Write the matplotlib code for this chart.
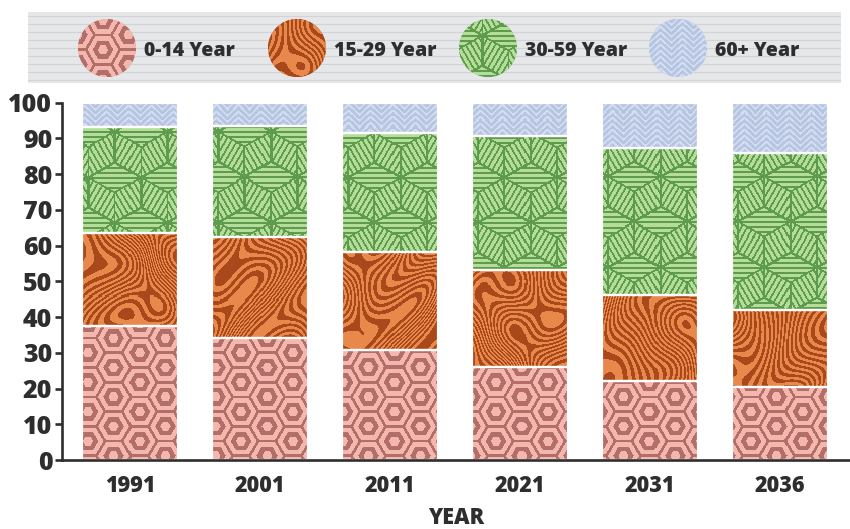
import numpy as np
import matplotlib
matplotlib.use("Agg")
import matplotlib.pyplot as plt
from matplotlib.patches import Circle
from matplotlib.colors import to_rgb

# ---------------- data ----------------
years = ["1991", "2001", "2011", "2021", "2031", "2036"]
age_groups = ["0-14 Year", "15-29 Year", "30-59 Year", "60+ Year"]
share_0_14 = [37.4, 34.1, 30.9, 26.0, 22.0, 20.4]
share_15_29 = [26.2, 28.3, 27.4, 27.3, 24.1, 21.5]
share_30_59 = [29.7, 31.1, 33.1, 37.3, 41.3, 44.1]
share_60_plus = [6.7, 6.5, 8.6, 9.4, 12.6, 14.0]
y_ticks = [0, 10, 20, 30, 40, 50, 60, 70, 80, 90, 100]
x_label = "YEAR"

series = [share_0_14, share_15_29, share_30_59, share_60_plus]

FONT = "Open Sans"
TXT = "#2e2e2e"
WEIGHT = 800

# ---------------- textures ----------------
S3 = np.sqrt(3.0)


def two_tone(mask, c_on, c_off):
    a = np.array(to_rgb(c_on))
    b = np.array(to_rgb(c_off))
    return np.where(mask[..., None], a, b)


def grid(w, h, ox=0.0, oy=0.0):
    x, y = np.meshgrid(np.arange(w) + ox, np.arange(h) + oy)
    return x.astype(float), y.astype(float)


def nearest(x, y, ax_, ay_, bx, by):
    cxa = np.round(x / ax_) * ax_
    cya = np.round(y / ay_) * ay_
    cxb = np.round((x - bx) / ax_) * ax_ + bx
    cyb = np.round((y - by) / ay_) * ay_ + by
    da = (x - cxa) ** 2 + (y - cya) ** 2
    db = (x - cxb) ** 2 + (y - cyb) ** 2
    use_a = da <= db
    return np.where(use_a, x - cxa, x - cxb), np.where(use_a, y - cya, y - cyb)


def tex_pink(w, h, ox=0, oy=0):
    x, y = grid(w, h, ox, oy)
    R = 17.0
    dx, dy = nearest(x, y, 3 * R, S3 * R, 1.5 * R, S3 / 2 * R)
    s = S3 / 2
    nrm = np.maximum(np.abs(dy), s * np.abs(dx) + 0.5 * np.abs(dy)) / s
    band = np.floor(nrm / (R / 3.3)).astype(int) % 2 == 1
    return two_tone(band, "#b46e6a", "#f3b7ad")


def tex_orange(w, h, ox=0, oy=0):
    x, y = grid(w, h, ox, oy)
    f = (x + 20 * np.sin(y / 17.0 + 2.0 * np.sin(x / 29.0))
         + 14 * np.cos(x / 23.0 - y / 31.0) + 9 * np.sin((x + y) / 13.0))
    m = np.sin(2 * np.pi * f / 8.0) > 0
    return two_tone(m, "#a9481b", "#e8884a")


def tex_green(w, h, ox=0, oy=0):
    x, y = grid(w, h, ox, oy)
    R = 30.0
    dx, dy = nearest(x, y, S3 * R, 3 * R, S3 / 2 * R, 1.5 * R)
    a = np.degrees(np.arctan2(-dy, dx)) % 360
    s = S3 / 2
    top = (a >= 30) & (a < 150)
    left = (a >= 150) & (a < 270)
    u_top = dy
    u_left = dx * s + dy * 0.5
    u_right = dx * s - dy * 0.5
    u = np.where(top, u_top, np.where(left, u_left, u_right))
    stripe = np.mod(u, 5.0) < 1.8
    nrm = np.maximum(np.abs(dx), 0.5 * np.abs(dx) + s * np.abs(dy)) / s
    edge = nrm > R - 1.4
    spoke = np.zeros_like(x, dtype=bool)
    for th in (30, 150, 270):
        ux, uy = np.cos(np.radians(th)), -np.sin(np.radians(th))
        d = np.abs(dx * uy - dy * ux)
        p = dx * ux + dy * uy
        spoke |= (d < 0.9) & (p > 0)
    return two_tone(stripe | edge | spoke, "#5f9b4c", "#b3dd99")


def tex_blue(w, h, ox=0, oy=0):
    x, y = grid(w, h, ox, oy)
    v = np.mod(y + 0.9 * np.abs(np.mod(x, 22.0) - 11.0), 6.0) < 2.3
    return two_tone(v, "#d3ddef", "#b5c5e2")


tex_funcs = [tex_pink, tex_orange, tex_green, tex_blue]
base_colors = ["#dc9790", "#c8692f", "#8fc374", "#c3d1e9"]

# ---------------- figure ----------------
FW, FH = 850, 529
fig = plt.figure(figsize=(FW / 100, FH / 100), dpi=100)

# ----- legend panel -----
lx0, lx1, ly0, ly1 = 28, 841, 12, 83
lax = fig.add_axes([lx0 / FW, 1 - ly1 / FH, (lx1 - lx0) / FW, (ly1 - ly0) / FH])
lax.set_facecolor("#e6e7e9")
for yy in np.arange(ly0 + 4, ly1, 8):
    lax.axhline(yy, color="#d2d3d6", lw=0.8, zorder=0)
for sp in lax.spines.values():
    sp.set_visible(False)
lax.set_xticks([])
lax.set_yticks([])

circle_cx = [107, 297, 488, 678]
cy, rad = 48, 29
for k, name in enumerate(age_groups):
    cx = circle_cx[k]
    circ = Circle((cx, cy), rad, facecolor=base_colors[k], lw=0, zorder=2)
    lax.add_patch(circ)
    t = tex_funcs[k](2 * rad + 2, 2 * rad + 2, 40 * k, 13)
    im = lax.imshow(t, extent=[cx - rad - 1, cx + rad + 1, cy + rad + 1, cy - rad - 1],
                    origin="upper", aspect="auto", zorder=3, interpolation="bilinear")
    im.set_clip_path(circ)
    lax.text(cx + 37, cy + 3, name, fontsize=14, fontweight=WEIGHT, family=FONT,
             color=TXT, ha="left", va="center", zorder=4)
lax.set_xlim(lx0, lx1)
lax.set_ylim(ly1, ly0)

# ----- main axes -----
px_l, px_r, px_t, px_b = 62, 850, 102, 460
ax = fig.add_axes([px_l / FW, 1 - px_b / FH, (px_r - px_l) / FW, (px_b - px_t) / FH])
xl = (-0.523, 5.538)
yl = (0, 100.2)
tw, th = px_r - px_l, px_b - px_t
textures = [f(tw, th) for f in tex_funcs]

xs = np.arange(len(years))
bar_w = 0.74
bottom = np.zeros(len(years))
for k, vals in enumerate(series):
    vals = np.array(vals)
    bars = ax.bar(xs, vals, bottom=bottom, width=bar_w, color=base_colors[k], lw=0, zorder=1)
    for rect in bars:
        im = ax.imshow(textures[k], extent=[xl[0], xl[1], yl[0], yl[1]], origin="upper",
                       aspect="auto", zorder=2, interpolation="nearest")
        im.set_clip_path(rect)
    ax.bar(xs, vals, bottom=bottom, width=bar_w, fill=False, edgecolor="white",
           lw=1.6, zorder=3)
    bottom = bottom + vals

ax.set_xlim(*xl)
ax.set_ylim(*yl)
ax.set_xticks(xs)
ax.set_xticklabels(years)
ax.set_yticks(y_ticks)
ax.set_yticklabels([str(v) for v in y_ticks])
for sp in ("top", "right"):
    ax.spines[sp].set_visible(False)
for sp in ("left", "bottom"):
    ax.spines[sp].set_color(TXT)
    ax.spines[sp].set_linewidth(1.9)
    ax.spines[sp].set_zorder(5)
ax.spines["left"].set_bounds(0, 100)
ax.tick_params(axis="y", length=5, width=1.9, color=TXT, pad=2)
ax.tick_params(axis="x", length=0, pad=10)
for lab in ax.get_xticklabels():
    lab.set_fontfamily(FONT)
    lab.set_fontweight(WEIGHT)
    lab.set_fontsize(15.5)
    lab.set_color(TXT)
for lab in ax.get_yticklabels():
    lab.set_fontfamily(FONT)
    lab.set_fontweight(WEIGHT)
    lab.set_fontsize(18)
    lab.set_color(TXT)
ax.set_xlabel(x_label, fontsize=15.5, fontweight=WEIGHT, family=FONT, color=TXT, labelpad=6)
ax.set_facecolor("white")

fig.savefig("out.png", dpi=100)
